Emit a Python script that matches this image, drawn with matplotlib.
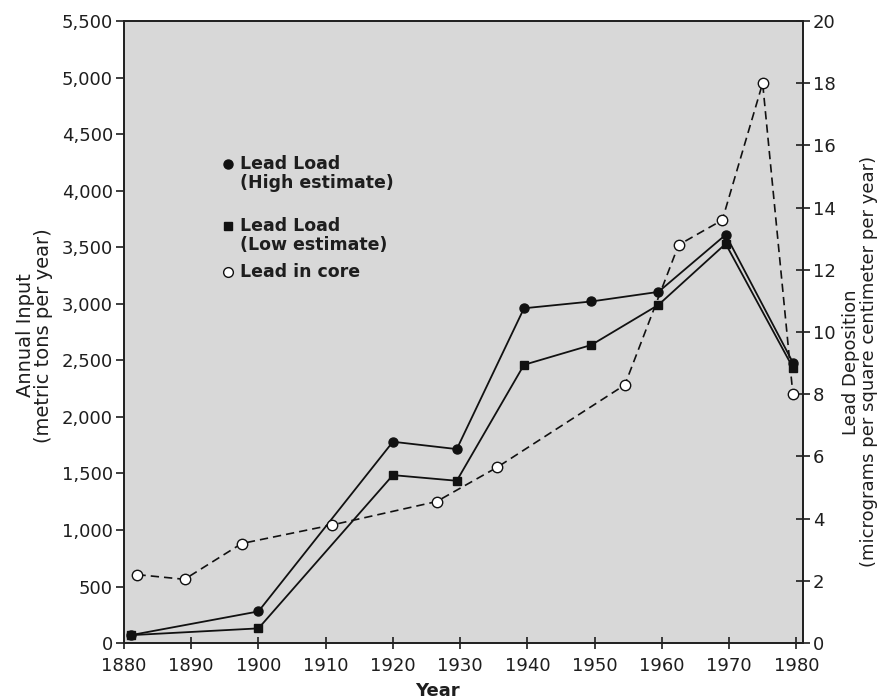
import matplotlib
matplotlib.use("Agg")
import matplotlib.pyplot as plt
from matplotlib.ticker import FuncFormatter, MultipleLocator

plt.rcParams['font.family'] = ['DejaVu Sans']

# ---- data ----
load_years = [1881, 1900, 1920, 1929.5, 1939.5, 1949.5, 1959.5, 1969.5, 1979.5]
load_high = [70, 280, 1780, 1715, 2960, 3020, 3105, 3610, 2480]
load_low = [70, 130, 1485, 1435, 2460, 2635, 2990, 3530, 2435]

core_years = [1882, 1889, 1897.5, 1911, 1926.5, 1935.5, 1954.5, 1962.5, 1969, 1975, 1979.5]
core_dep = [2.2, 2.05, 3.2, 3.8, 4.55, 5.65, 8.3, 12.8, 13.6, 18.0, 8.0]

legend_labels = [("Lead Load", "(High estimate)"), ("Lead Load", "(Low estimate)"), ("Lead in core", None)]

TXT = '#1e1e1e'

fig = plt.figure(figsize=(8.82, 6.99), dpi=100)
ax = fig.add_axes([0.1406, 0.080, 0.7698, 0.890])
ax.set_facecolor('#d8d8d8')
ax2 = ax.twinx()

ax.plot(load_years, load_high, color='#111111', lw=1.3, marker='o', ms=6.5,
        mfc='#111111', mec='#111111', zorder=4)
ax.plot(load_years, load_low, color='#111111', lw=1.3, marker='s', ms=6,
        mfc='#111111', mec='#111111', zorder=4)
ax2.plot(core_years, core_dep, color='#111111', lw=1.2, ls=(0, (5, 3)), marker='o', ms=7.5,
         mfc='white', mec='#111111', mew=1.0, zorder=3)

ax.set_xlim(1880, 1981)
ax.set_ylim(0, 5500)
ax2.set_ylim(0, 20)

ax.xaxis.set_major_locator(MultipleLocator(10))
ax.yaxis.set_major_locator(MultipleLocator(500))
ax2.yaxis.set_major_locator(MultipleLocator(2))
ax.yaxis.set_major_formatter(FuncFormatter(lambda v, p: f"{int(v):,}"))

ax.tick_params(axis='x', direction='inout', length=8, width=1.2, labelsize=13, colors=TXT, pad=6)
ax.tick_params(axis='y', direction='out', length=6, width=1.2, labelsize=13, colors=TXT, pad=2)
ax2.tick_params(axis='y', direction='inout', length=10, width=1.2, labelsize=13, colors=TXT, pad=2)

for a in (ax, ax2):
    for s in a.spines.values():
        s.set_linewidth(1.3)
        s.set_color('#222222')

ax.set_xlabel("Year", fontsize=13, fontweight='bold', color=TXT)
ax.xaxis.set_label_coords(0.462, -0.062)
ax.set_ylabel("Annual Input\n(metric tons per year)", fontsize=14, color=TXT, linespacing=0.95)
ax.yaxis.set_label_coords(-0.104, 0.495)
ax2.set_ylabel("Lead Deposition\n(micrograms per square centimeter per year)", fontsize=13,
               color=TXT, linespacing=0.95)
ax2.yaxis.set_label_coords(1.058, 0.452)

# hand-made key: marker sits beside the first line of each label
key_markers = [dict(marker='o', ms=6.5, mfc='#111111'), dict(marker='s', ms=5.5, mfc='#111111'),
               dict(marker='o', ms=7, mfc='white')]
key_y = [0.770, 0.670, 0.596]
for (l1, l2), km, y in zip(legend_labels, key_markers, key_y):
    ax.plot([0.153], [y], transform=ax.transAxes, color='#111111', ls='none', mec='#111111', **km)
    txt = l1 if l2 is None else l1 + "\n" + l2
    ax.text(0.171, y + 0.015, txt, transform=ax.transAxes, fontsize=12.5, fontweight='bold',
            color=TXT, va='top', ha='left', linespacing=1.1)

fig.savefig("out.png", dpi=100)
